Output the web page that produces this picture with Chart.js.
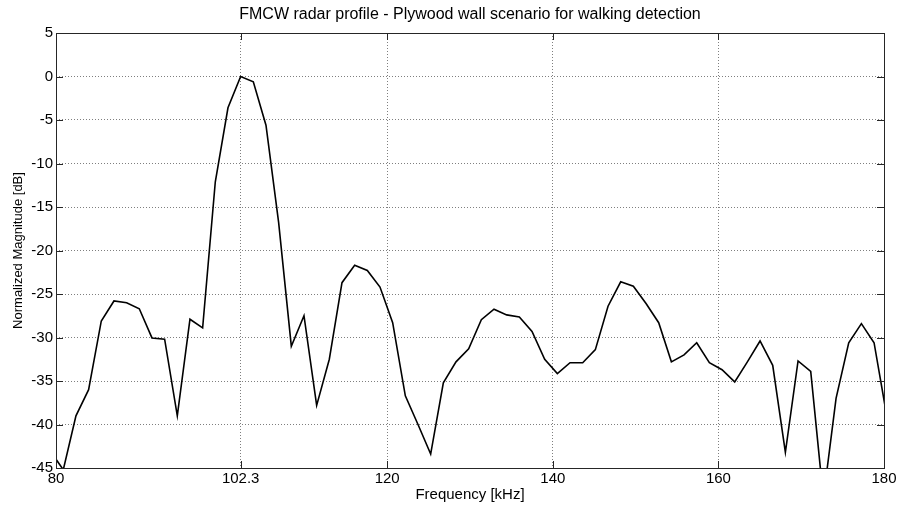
<!DOCTYPE html>
<html>
<head>
<meta charset="utf-8">
<script src="https://cdn.jsdelivr.net/npm/chart.js@4"></script>
<style>
  html, body { margin: 0; padding: 0; background: #fff; }
  #wrap { width: 901px; height: 509px; }
</style>
</head>
<body>
<div id="wrap"><canvas id="profileChart" width="901" height="509"></canvas></div>
<script>
const freqKHz = [
  79.35, 80.88, 82.41, 83.94, 85.47, 87.00, 88.53, 90.06, 91.59, 93.12,
  94.65, 96.18, 97.71, 99.24, 100.77, 102.30, 103.83, 105.36, 106.89, 108.42,
  109.95, 111.48, 113.01, 114.54, 116.07, 117.60, 119.13, 120.66, 122.19, 123.72,
  125.25, 126.78, 128.31, 129.84, 131.37, 132.90, 134.43, 135.96, 137.49, 139.02,
  140.55, 142.08, 143.61, 145.14, 146.67, 148.20, 149.73, 151.26, 152.79, 154.32,
  155.85, 157.38, 158.91, 160.44, 161.97, 163.50, 165.03, 166.56, 168.09, 169.62,
  171.15, 172.68, 174.21, 175.74, 177.27, 178.80, 180.33
];
const magnitudeDb = [
  -43.1, -45.2, -39.0, -36.0, -28.1, -25.8, -26.0, -26.7, -30.05, -30.2,
  -39.0, -27.9, -28.9, -12.1, -3.6, 0.0, -0.6, -5.6, -16.8, -31.0,
  -27.5, -37.8, -32.5, -23.7, -21.7, -22.3, -24.2, -28.3, -36.7, -40.0,
  -43.4, -35.2, -32.8, -31.3, -27.95, -26.75, -27.4, -27.65, -29.3, -32.5,
  -34.15, -32.9, -32.9, -31.4, -26.4, -23.6, -24.1, -26.1, -28.3, -32.8,
  -32.0, -30.6, -32.9, -33.7, -35.1, -32.8, -30.4, -33.2, -43.2, -32.7,
  -33.9, -48.5, -37.0, -30.6, -28.4, -30.6, -39.0
];
const xTicks = [80, 102.3, 120, 140, 160, 180];
const yTicks = [5, 0, -5, -10, -15, -20, -25, -30, -35, -40, -45];

const fontFamily = "'Liberation Sans', Arial, sans-serif";

// solid frame plus short inward tick marks on all four sides
const frameTicks = {
  id: 'frameTicks',
  afterDraw(chart) {
    const { ctx, chartArea: a, scales } = chart;
    const len = 7;
    ctx.save();
    ctx.strokeStyle = '#262626';
    ctx.lineWidth = 1;
    ctx.beginPath();
    xTicks.forEach(v => {
      const x = Math.round(scales.x.getPixelForValue(v)) + 0.5;
      ctx.moveTo(x, a.bottom); ctx.lineTo(x, a.bottom - len);
      ctx.moveTo(x, a.top); ctx.lineTo(x, a.top + len);
    });
    yTicks.forEach(v => {
      const y = Math.round(scales.y.getPixelForValue(v)) + 0.5;
      ctx.moveTo(a.left, y); ctx.lineTo(a.left + len, y);
      ctx.moveTo(a.right, y); ctx.lineTo(a.right - len, y);
    });
    ctx.stroke();
    ctx.strokeRect(Math.round(a.left) + 0.5, Math.round(a.top) + 0.5,
      Math.round(a.right - a.left), Math.round(a.bottom - a.top));
    ctx.restore();
  }
};

new Chart(document.getElementById('profileChart'), {
  type: 'line',
  data: {
    datasets: [{
      data: freqKHz.map((f, i) => ({ x: f, y: magnitudeDb[i] })),
      borderColor: '#000',
      borderWidth: 1.6,
      pointRadius: 0,
      tension: 0,
      fill: false
    }]
  },
  options: {
    responsive: false,
    animation: false,
    layout: { padding: { top: 0, right: 17, bottom: 0, left: 0 } },
    plugins: {
      legend: { display: false },
      tooltip: { enabled: false },
      title: {
        display: true,
        fullSize: false,
        text: 'FMCW radar profile - Plywood wall scenario for walking detection',
        color: '#000',
        font: { family: fontFamily, size: 16, weight: 'normal' },
        padding: { top: 5, bottom: 8.8 }
      }
    },
    scales: {
      x: {
        type: 'linear',
        min: 80,
        max: 180,
        afterBuildTicks: scale => { scale.ticks = xTicks.map(v => ({ value: v })); },
        afterFit: scale => { scale.height = 41; },
        ticks: {
          color: '#000',
          font: { family: fontFamily, size: 15 },
          padding: 2,
          maxRotation: 0,
          autoSkip: false,
          callback: v => String(v)
        },
        grid: { color: 'rgba(0,0,0,0.5)', lineWidth: 1, drawTicks: false },
        border: { display: false, dash: [1, 2] },
        title: {
          display: true,
          text: 'Frequency [kHz]',
          color: '#000',
          font: { family: fontFamily, size: 15 },
          padding: { top: 0, bottom: 5 }
        }
      },
      y: {
        min: -45,
        max: 5,
        afterBuildTicks: scale => { scale.ticks = yTicks.map(v => ({ value: v })); },
        afterFit: scale => { scale.width = 56; },
        ticks: {
          color: '#000',
          font: { family: fontFamily, size: 15 },
          padding: 3,
          autoSkip: false,
          callback: v => String(v)
        },
        grid: { color: 'rgba(0,0,0,0.5)', lineWidth: 1, drawTicks: false },
        border: { display: false, dash: [1, 2] },
        title: {
          display: true,
          text: 'Normalized Magnitude [dB]',
          color: '#000',
          font: { family: fontFamily, size: 13 },
          padding: { top: 11, bottom: 0 }
        }
      }
    }
  },
  plugins: [frameTicks]
});
</script>
</body>
</html>
